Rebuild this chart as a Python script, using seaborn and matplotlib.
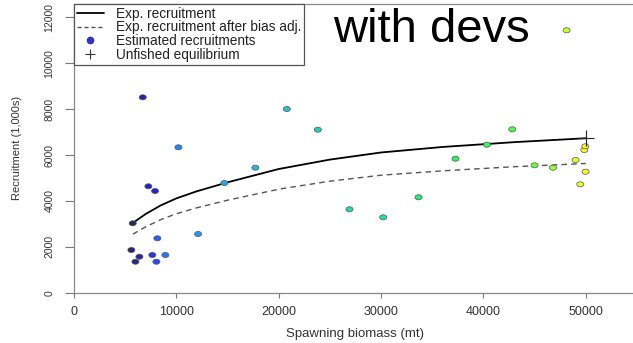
import matplotlib
matplotlib.use("Agg")
import matplotlib.pyplot as plt
import numpy as np
import pandas as pd
import seaborn as sns
from matplotlib.lines import Line2D
from matplotlib.path import Path
from matplotlib.transforms import Affine2D

# Estimated spawning biomass (mt) and recruitment (1,000s), in year order
ssb = [5736, 5605, 6000, 6390, 6715, 7265, 7918, 7655, 8050, 8145, 8925,
       10200, 12120, 14690, 17720, 20790, 23820, 26910, 30205, 33660,
       37270, 40340, 42815, 44995, 46790, 48120, 49000, 49460, 49980,
       49850, 49950]
rec = [3024, 1860, 1350, 1569, 8514, 4636, 4431, 1643, 1350, 2370, 1643,
       6335, 2558, 4780, 5447, 8004, 7102, 3634, 3285, 4157,
       5839, 6449, 7120, 5551, 5447, 11434, 5782, 4723, 5272,
       6218, 6379]

# Expected recruitment curve, with and without the bias adjustment
curve_ssb = [5750, 7000, 8500, 10000, 12000, 15000, 20000, 25000, 30000,
             36000, 43000, 50000]
curve_exp = [3040, 3430, 3810, 4110, 4420, 4810, 5390, 5800, 6110,
             6350, 6560, 6730]
curve_adj = [2550, 2870, 3190, 3440, 3700, 4030, 4510, 4860, 5120,
             5310, 5490, 5630]

# Unfished equilibrium
b0 = [50000]
r0 = [6730]

x_ticks = [0, 10000, 20000, 30000, 40000, 50000]
y_ticks = [0, 2000, 4000, 6000, 8000, 10000, 12000]

sns.set_style("white")
plt.rcParams["font.family"] = ["Liberation Sans", "DejaVu Sans"]


def rich_colors_short(t):
    """Dark blue -> blue -> green -> yellow colour ramp."""
    t = np.asarray(t, dtype=float)
    r = 1.0 / (1.0 + np.exp(20 - 35 * t))
    g = np.clip(-0.8 + 6 * t - 5 * t ** 2, 0, 1)
    b = np.exp(-0.5 * ((t - 0.25) / 0.15) ** 2)
    return np.column_stack([r, g, b])


n = len(ssb)
order = list(range(n))
ramp = rich_colors_short(np.linspace(0, 0.72, n))
# slightly washed-out fill
ramp = 0.85 * ramp + 0.15
palette = {i: tuple(ramp[i]) for i in order}

pts = pd.DataFrame({"ssb": ssb, "rec": rec, "order": order})
exp_df = pd.DataFrame({"ssb": curve_ssb, "rec": curve_exp})
adj_df = pd.DataFrame({"ssb": curve_ssb, "rec": curve_adj})

fig = plt.figure(figsize=(6.33, 3.43), dpi=100)
ax = fig.add_axes([74 / 633, 50.3 / 343, 563 / 633, 288.7 / 343])

sns.lineplot(data=exp_df, x="ssb", y="rec", ax=ax, color="black",
             linewidth=1.3, sort=False, estimator=None, zorder=2)
sns.lineplot(data=adj_df, x="ssb", y="rec", ax=ax, color="#555555",
             linewidth=1.0, sort=False, estimator=None, dashes=False,
             linestyle=(0, (4, 3)), zorder=2)

# slightly flattened circular marker
ellipse = Path.unit_circle().transformed(Affine2D().scale(1.0, 0.72))
sns.scatterplot(data=pts, x="ssb", y="rec", hue="order", palette=palette,
                ax=ax, legend=False, marker=ellipse, s=26,
                edgecolor="#555555", linewidth=0.5, zorder=3)

ax.plot(b0, r0, marker="+", color="#222222", markersize=12,
        markeredgewidth=0.8, linestyle="none", zorder=4)

ax.set_xlim(0, 55000)
ax.set_ylim(0, 12580)
ax.set_xticks(x_ticks)
ax.set_xticklabels([str(v) for v in x_ticks], fontsize=9, color="#333333")
ax.set_yticks(y_ticks)
ax.set_yticklabels([str(v) for v in y_ticks], fontsize=7.5, color="#333333",
                   rotation=90, va="center",
                   family=["Liberation Sans Narrow", "Liberation Sans"])
ax.tick_params(axis="x", direction="out", length=3.6, width=0.8,
               color="#777777", pad=6, bottom=True)
ax.tick_params(axis="y", direction="out", length=6.5, width=0.8,
               color="#777777", pad=7.5, left=True)
for sp in ax.spines.values():
    sp.set_color("#888888")
    sp.set_linewidth(0.9)
    sp.set_visible(True)

ax.set_xlabel("Spawning biomass (mt)", fontsize=9.5, color="#333333",
              labelpad=7)
ax.set_ylabel("Recruitment (1,000s)", fontsize=8, color="#333333",
              labelpad=16, family=["Liberation Sans Narrow", "Liberation Sans"])

handles = [
    Line2D([], [], color="black", linewidth=1.3),
    Line2D([], [], color="#555555", linewidth=1.0, linestyle=(0, (3, 2))),
    Line2D([], [], color="#3333bb", marker="o", markersize=4.5,
           linestyle="none"),
    Line2D([], [], color="#333333", marker="+", markersize=7,
           markeredgewidth=0.8, linestyle="none"),
]
labels = ["Exp. recruitment", "Exp. recruitment after bias adj.",
          "Estimated recruitments", "Unfished equilibrium"]
leg = ax.legend(handles, labels, loc="upper left", bbox_to_anchor=(0, 1),
                borderaxespad=0, fontsize=9.8, frameon=True, fancybox=False,
                framealpha=1, edgecolor="#555555", handlelength=2.0,
                handletextpad=0.9, borderpad=0.2, labelspacing=-0.02)
leg.get_frame().set_linewidth(0.9)
for t in leg.get_texts():
    t.set_color("#222222")

fig.text(333 / 633, (343 - 42) / 343, "with devs", fontsize=34,
         color="black", va="baseline", ha="left")

fig.savefig("out.png", dpi=100)
